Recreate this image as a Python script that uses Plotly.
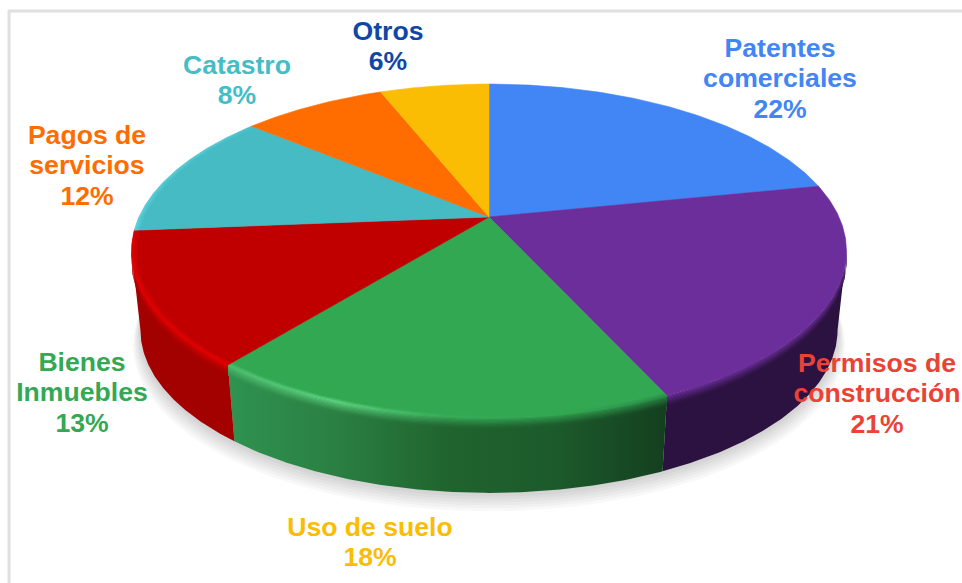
import numpy as np
import plotly.graph_objects as go

# ---- data (unrounded estimates; labels show the rounded %) ----
categories = ["Patentes comerciales", "Permisos de construcción", "Uso de suelo",
              "Bienes Inmuebles", "Pagos de servicios", "Catastro", "Otros"]
values = [21.8, 21.4, 17.6, 12.9, 12.4, 7.9, 6.0]
label_lines = [["Patentes", "comerciales"], ["Permisos de", "construcción"], ["Uso de suelo"],
               ["Bienes", "Inmuebles"], ["Pagos de", "servicios"], ["Catastro"], ["Otros"]]
label_x = [780, 877, 370, 82, 87, 237, 388]
label_y = [50, 365, 529, 364, 137, 67, 33]
label_colors = ["#4285f4", "#ea4335", "#fbbc04", "#34a853", "#ff6d01", "#46bdc6", "#0f47a8"]
top_colors = ["#4285f4", "#6c2e9b", "#32a852", "#c00000", "#46bbc4", "#ff6d01", "#fbbc04"]
wall_stops = [None, ["#2c1240"],
              ["#2f9350", "#2a7f41", "#20642f", "#1c5a2b", "#143f1f"],
              ["#a30000"], None, None, None]
rim_stops = [None, ["#6c2e9b"], ["#4fc070", "#5ed482", "#38ab58", "#32a852", "#2a8a46"],
             ["#e40000"], ["#5cd5e0"], None, None]

# ---- projection of the disc ----
CX, APEX_Y, SX, SY, K = 489.0, 217.0, 350.0, 160.0, 0.2036
DEPTH, BOTTOM_SCALE = 80.0, 0.975
LINE_GAP = 30.5
FRONT_START = np.arccos(-K) / (2 * np.pi)      # where the rim turns towards the viewer
FRONT_END = 1 - FRONT_START


def pt(f, scale=1.0, dy=0.0):
    t = 2 * np.pi * np.asarray(f, dtype=float)
    d = 1 + K * np.cos(t)
    return CX + scale * SX * np.sin(t) / d, APEX_Y + dy - scale * SY * np.cos(t) / d


def hex2rgb(c):
    return np.array([int(c[i:i + 2], 16) for i in (1, 3, 5)], dtype=float)


def mix(a, b, t):
    v = hex2rgb(a) * (1 - t) + hex2rgb(b) * t
    return "rgb(%d,%d,%d)" % tuple(np.round(v))


def scale_of(stops):
    if len(stops) == 1:
        return [[0, stops[0]], [1, stops[0]]]
    return [[i / (len(stops) - 1), c] for i, c in enumerate(stops)]


def poly(x, y, color=None, colorscale=None, edge=False):
    kw = dict(x=x, y=y, mode="lines", fill="toself", hoverinfo="skip", showlegend=False)
    if colorscale:
        kw["fillgradient"] = dict(type="horizontal", colorscale=colorscale)
        kw["line"] = dict(width=0)
    else:
        kw["fillcolor"] = color
        kw["line"] = dict(width=0.6 if edge else 0, color=color)
    return go.Scatter(**kw)


def ring(f, s0, d0, s1, d1):
    x0, y0 = pt(f, s0, d0)
    x1, y1 = pt(f, s1, d1)
    return np.r_[x0, x1[::-1], x0[0]], np.r_[y0, y1[::-1], y0[0]]


def resample(stops, n):
    return [stops[int(round(j * (len(stops) - 1) / (n - 1)))] for j in range(n)] if n > 1 else [stops[0]]


fig = go.Figure()

# soft shadow below the disc
circle = np.linspace(0, 1, 361)
for i in range(7):
    sx, sy = pt(circle, BOTTOM_SCALE + 0.0035 * i, DEPTH + 1 + 2.2 * i)
    fig.add_trace(poly(sx, sy, "rgba(0,0,0,0.028)"))

edges = np.cumsum([0] + values) / sum(values)
spans = [np.linspace(edges[i], edges[i + 1], 120) for i in range(len(values))]
front = [np.linspace(max(edges[i], FRONT_START), min(edges[i + 1], FRONT_END), 120)
         if min(edges[i + 1], FRONT_END) > max(edges[i], FRONT_START) else None
         for i in range(len(values))]

# walls, only where the rim faces the viewer
for i, f in enumerate(front):
    if f is None:
        continue
    x, y = ring(f, 1, 0, BOTTOM_SCALE, DEPTH)
    fig.add_trace(poly(x, y, colorscale=scale_of(wall_stops[i])))

# lit bevel fading into the wall
BEVEL_STEPS = 8
BEVEL_DEPTH = 10.0
for i, f in enumerate(front):
    if f is None:
        continue
    rim, wall = rim_stops[i], wall_stops[i]
    n = max(len(rim), len(wall))
    rim_s, wall_s = resample(rim, n), resample(wall, n)
    for b in range(BEVEL_STEPS):
        t = ((b + 0.5) / BEVEL_STEPS) ** 0.8
        cs = scale_of([mix(r, w, t) for r, w in zip(rim_s, wall_s)])
        d0 = BEVEL_DEPTH * b / BEVEL_STEPS
        d1 = BEVEL_DEPTH * (b + 1) / BEVEL_STEPS + 0.6
        x, y = ring(f, 1, d0, 1, d1)
        fig.add_trace(poly(x, y, colorscale=cs))

# top faces
for i, f in enumerate(spans):
    ax, ay = pt(f)
    x = np.r_[CX, ax, CX]
    y = np.r_[APEX_Y, ay, APEX_Y]
    fig.add_trace(poly(x, y, top_colors[i], edge=True))

# inner bevel on the top face edge
INNER = np.linspace(0.985, 1.0, 6)
for i, f in enumerate(spans):
    if rim_stops[i] is None or i == 1:
        continue
    for j in range(len(INNER) - 1):
        a = 1 - (j + 1) / (len(INNER) - 1)
        cs = scale_of([mix(c, top_colors[i], a) for c in rim_stops[i]])
        x, y = ring(f, INNER[j], 0, INNER[j + 1], 0.3)
        fig.add_trace(poly(x, y, colorscale=cs))

# labels: one text mark per line for the tight line spacing of the original
for i, lines in enumerate(label_lines):
    texts = lines + [f"{values[i]:.0f}%"]
    fig.add_trace(go.Scatter(
        x=[label_x[i]] * len(texts),
        y=[label_y[i] + j * LINE_GAP for j in range(len(texts))],
        text=texts, mode="text", textposition="middle center",
        textfont=dict(family="Liberation Sans", size=26.6, color=label_colors[i], weight="bold"),
        hoverinfo="skip", showlegend=False))

fig.update_layout(
    width=962, height=583, margin=dict(l=0, r=0, t=0, b=0),
    paper_bgcolor="white", plot_bgcolor="white",
    xaxis=dict(range=[0, 962], visible=False, fixedrange=True),
    yaxis=dict(range=[583, 0], visible=False, fixedrange=True),
    shapes=[
        dict(type="line", x0=9, x1=9, y0=10, y1=583, line=dict(color="#e0e0e0", width=3), layer="below"),
        dict(type="line", x0=8, x1=962, y0=11, y1=11, line=dict(color="#e0e0e0", width=3), layer="below"),
    ],
)
fig.write_html("out.html", config={"displayModeBar": False},
               post_script="document.body.style.margin='0';document.body.style.overflow='hidden';")
